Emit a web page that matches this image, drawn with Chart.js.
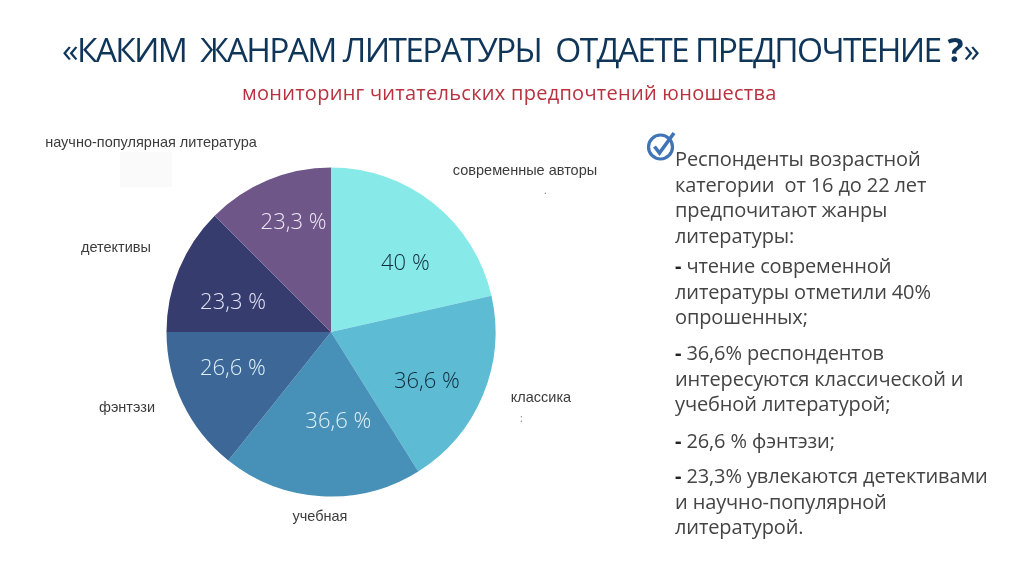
<!DOCTYPE html>
<html lang="ru">
<head>
<meta charset="utf-8">
<script src="https://cdn.jsdelivr.net/npm/chart.js@4"></script>
<style>
  html, body { margin: 0; padding: 0; background: #fff; }
  #page { position: relative; width: 1024px; height: 576px; overflow: hidden; font-family: "Open Sans", sans-serif; }
  #page > * { position: absolute; }
  #chartBox { left: 0; top: 0; width: 1024px; height: 576px; }
  #title { left: 62px; top: 26px; white-space: nowrap;
    font-size: 33.5px; line-height: 46px; color: #0f3559; letter-spacing: -1.67px; }
  #title b { font-weight: 700; letter-spacing: 0; }
  #subtitle { left: 242px; top: 79px; white-space: nowrap; font-size: 20px; line-height: 27px; color: #b8323f; letter-spacing: 0.27px; }
  .txt { left: 675px; white-space: nowrap; font-size: 20px; line-height: 25.5px; color: #444; letter-spacing: -0.12px; }
  .txt b { color: #222; }
  #patch { left: 120px; top: 152px; width: 52px; height: 35px; background: #fafafa; }
  #check { left: 646px; top: 130px; }
  .speck { color: #777; font-size: 10px; line-height: 12px; }
</style>
</head>
<body>
<div id="page">
  <div id="patch"></div>
  <div id="chartBox"><canvas id="pie"></canvas></div>
  <div id="title">«КАКИМ&nbsp; ЖАНРАМ ЛИТЕРАТУРЫ&nbsp; ОТДАЕТЕ ПРЕДПОЧТЕНИЕ <b>?</b>»</div>
  <div id="subtitle">мониторинг читательских предпочтений юношества</div>
  <svg id="check" width="32" height="32" viewBox="0 0 32 32">
    <circle cx="14.5" cy="17" r="12" fill="none" stroke="#3f74b8" stroke-width="3.2"/>
    <path d="M8.5 16.5 L13.5 23 L28 3" fill="none" stroke="#3f74b8" stroke-width="3.6"/>
  </svg>
  <div class="speck" style="left:520px;top:412px">:</div>
  <div class="speck" style="left:544px;top:184px">.</div>
  <div class="txt" style="top:146px">Респонденты возрастной<br>категории&nbsp; от 16 до 22 лет<br>предпочитают жанры<br>литературы:</div>
  <div class="txt" style="top:253px"><b>-</b> чтение современной<br>литературы отметили 40%<br>опрошенных;</div>
  <div class="txt" style="top:340px"><b>-</b> 36,6% респондентов<br>интересуются классической и<br>учебной литературой;</div>
  <div class="txt" style="top:428px"><b>-</b> 26,6 % фэнтэзи;</div>
  <div class="txt" style="top:463px"><b>-</b> 23,3% увлекаются детективами<br>и научно-популярной<br>литературой.</div>
</div>
<script>
const genres = ['современные авторы', 'классика', 'учебная', 'фэнтэзи', 'детективы', 'научно-популярная литература'];
const shares = [40, 36.6, 36.6, 26.6, 23.3, 23.3];
const shareLabels = ['40 %', '36,6 %', '36,6 %', '26,6 %', '23,3 %', '23,3 %'];
const sliceColors = ['#87eae8', '#5dbbd4', '#4790b8', '#3c6797', '#363c6e', '#6e5788'];
const shareColors = ['#0e2c3c', '#0e2c3c', '#dff1f8', '#dff1f8', '#dfe3f4', '#efe6f6'];

// label placement, offsets from the centre of each slice
const shareOffsets = [[23, -4], [20, 18], [12, 8], [-24, 1], [-22, 2], [-6, -33]];
// outer captions, page coordinates of the text centre
const captionPos = [[525, 171], [541, 398], [320, 517], [127, 408], [116, 248], [151, 143]];

const labelPlugin = {
  id: 'sliceLabels',
  afterDatasetsDraw(chart) {
    const ctx = chart.ctx;
    const arcs = chart.getDatasetMeta(0).data;
    ctx.save();
    ctx.textAlign = 'center';
    ctx.textBaseline = 'middle';
    arcs.forEach((arc, i) => {
      const c = arc.getCenterPoint();
      ctx.font = '300 22px "Open Sans"';
      ctx.fillStyle = shareColors[i];
      ctx.fillText(shareLabels[i], c.x + shareOffsets[i][0], c.y + shareOffsets[i][1]);
      ctx.font = '14.5px "Liberation Sans"';
      ctx.fillStyle = '#3c3c3c';
      ctx.fillText(genres[i], captionPos[i][0], captionPos[i][1]);
    });
    ctx.restore();
  }
};

new Chart(document.getElementById('pie'), {
  type: 'pie',
  data: {
    labels: genres,
    datasets: [{ data: shares, backgroundColor: sliceColors, borderWidth: 0 }]
  },
  options: {
    responsive: true,
    maintainAspectRatio: false,
    animation: false,
    layout: { padding: { left: 166.5, right: 528.5, top: 167.5, bottom: 79.5 } },
    plugins: { legend: { display: false }, tooltip: { enabled: false } }
  },
  plugins: [labelPlugin]
});
</script>
</body>
</html>
